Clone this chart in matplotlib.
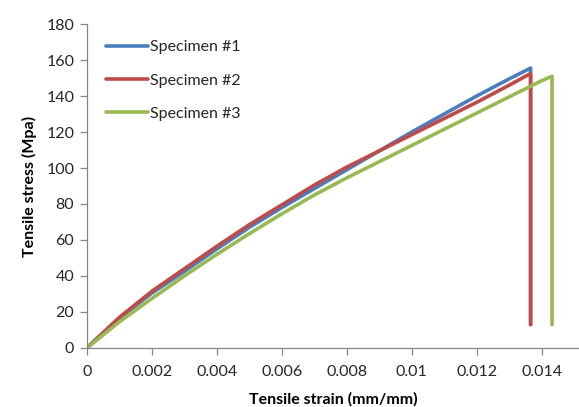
import numpy as np
import matplotlib.pyplot as plt

# values
strain = [0, 0.001, 0.002, 0.003, 0.004, 0.005, 0.006, 0.007, 0.008, 0.009, 0.010, 0.011, 0.012, 0.013]

spec1_strain = strain + [0.01366, 0.01366]
spec1_stress = [0, 16.5, 30.5, 42.5, 55, 67, 78, 88.5, 99, 109.5, 120, 130, 140, 149.5, 155.5, 13]

spec2_strain = strain + [0.01366, 0.01366]
spec2_stress = [0, 17, 31.5, 44, 56.5, 68.5, 79.5, 90.5, 100.5, 109.5, 118.5, 127.5, 136.5, 146, 152.5, 13]

spec3_strain = strain + [0.014, 0.01432, 0.01432]
spec3_stress = [0, 14.5, 27.5, 40, 52, 63.5, 74.5, 85, 94.5, 103.5, 112.5, 121.5, 130.5, 139.5, 148.5, 151, 13]

labels = ['Specimen #1', 'Specimen #2', 'Specimen #3']
colors = ['#4A7EBB', '#BE4B48', '#98B954']

x_ticks = [0, 0.002, 0.004, 0.006, 0.008, 0.01, 0.012, 0.014]
x_ticklabels = ['0', '0.002', '0.004', '0.006', '0.008', '0.01', '0.012', '0.014']
y_ticks = [0, 20, 40, 60, 80, 100, 120, 140, 160, 180]

plt.rcParams.update({
    'font.size': 11.5,
    'font.family': ['Lato', 'DejaVu Sans'],
    'text.color': '#262626',
})

fig = plt.figure(figsize=(5.79, 4.07), dpi=100)
ax = fig.add_axes([0.15, 0.145, 0.85, 0.796])

series = [(spec1_strain, spec1_stress), (spec2_strain, spec2_stress), (spec3_strain, spec3_stress)]
for (xs, ys), lab, col in zip(series, labels, colors):
    ax.plot(xs, ys, '-', color=col, linewidth=2.6, label=lab,
            solid_joinstyle='round', solid_capstyle='round')

ax.set_xlim(0, 0.01515)
ax.set_ylim(0, 180)
ax.set_xticks(x_ticks)
ax.set_xticklabels(x_ticklabels)
ax.set_yticks(y_ticks)

ax.set_xlabel('Tensile strain (mm/mm)', fontweight='bold', labelpad=10)
ax.set_ylabel('Tensile stress (Mpa)', fontweight='bold', labelpad=7)

for side in ['top', 'right']:
    ax.spines[side].set_visible(False)
for side in ['left', 'bottom']:
    ax.spines[side].set_color('#868686')
    ax.spines[side].set_linewidth(0.9)
ax.tick_params(axis='both', colors='#868686', labelcolor='#262626', length=5, width=0.9, pad=4)
ax.tick_params(axis='x', pad=7)

ax.legend(loc='upper left', bbox_to_anchor=(0.01, 0.995), frameon=False,
          handlelength=2.6, handletextpad=0.15, labelspacing=1.2)

plt.savefig('out.png', dpi=100)
